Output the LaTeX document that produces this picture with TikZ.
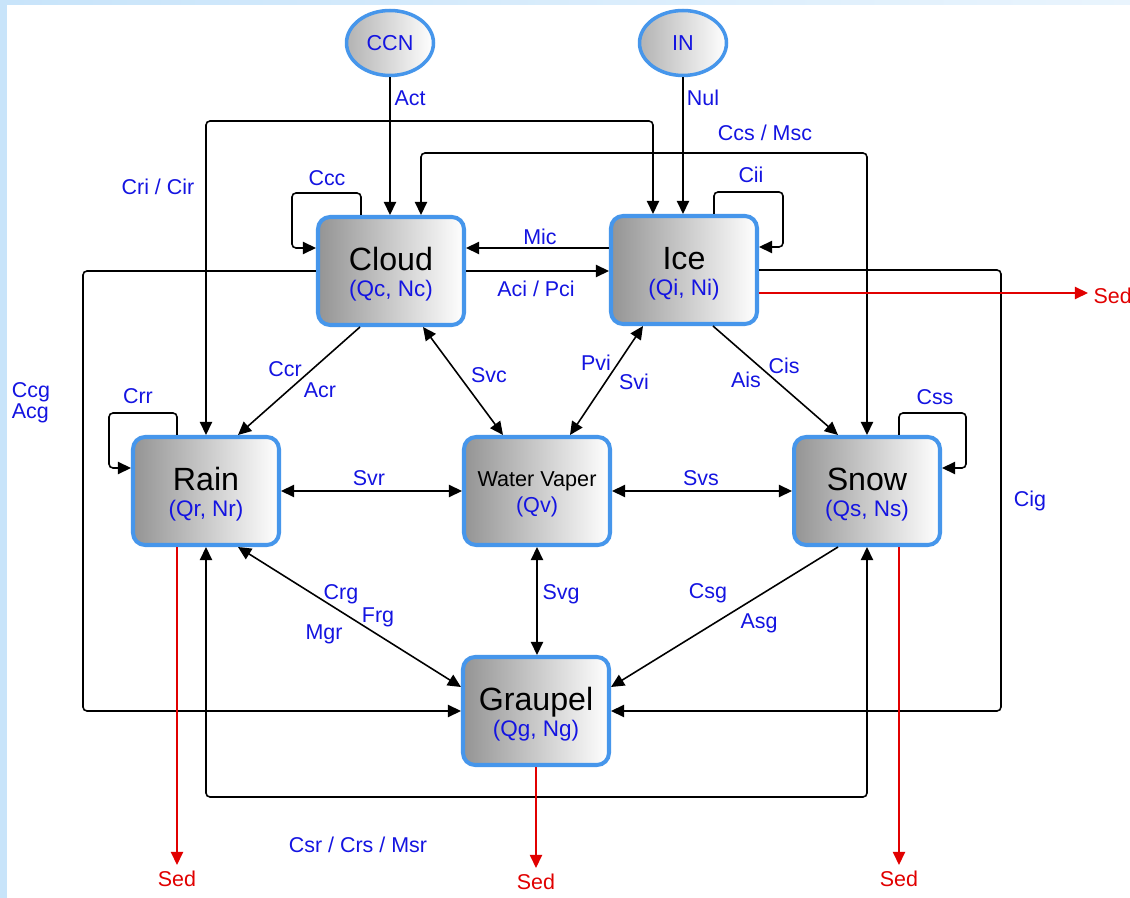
\documentclass[tikz,border=0pt]{standalone}
\usepackage{fontspec}
\setmainfont{Liberation Sans}
\usetikzlibrary{arrows.meta,shapes.geometric,calc}
\definecolor{lblue}{RGB}{20,20,225}
\definecolor{bborder}{RGB}{70,150,235}
\definecolor{sedred}{RGB}{225,0,0}
\definecolor{bgblue}{RGB}{200,228,250}
\newcommand\bxname[1]{{\fontsize{18.3}{18.3}\selectfont\rule{0pt}{16.9pt}#1}}
\begin{document}
\begin{tikzpicture}[x=0.02cm,y=-0.02cm,
  box/.style={draw=bborder,line width=2.3pt,rounded corners=0.24cm,left color=black!42,right color=white,
    minimum width=2.92cm,minimum height=2.16cm,inner sep=0pt,align=center,font=\fontsize{12.8}{15}\selectfont},
  src/.style={ellipse,draw=bborder,line width=2pt,left color=black!30,right color=white,
    minimum width=1.74cm,minimum height=1.3cm,inner sep=0pt,text=lblue,font=\fontsize{12.3}{14}\selectfont},
  lbl/.style={text=lblue,font=\fontsize{12.2}{14}\selectfont,inner sep=0pt},
  sedl/.style={text=sedred,font=\fontsize{12.2}{14}\selectfont,inner sep=3pt},
  conn/.style={line width=0.9pt,rounded corners=0.08cm},
  arr/.style={conn,-{Triangle[length=7.5pt,width=7pt]}},
  darr/.style={conn,{Triangle[length=7.5pt,width=7pt]}-{Triangle[length=7.5pt,width=7pt]}},
  sedarr/.style={line width=0.8pt,draw=sedred,-{Triangle[length=7.5pt,width=7pt]}}
]
\useasboundingbox (0,0) rectangle (1130,898);
\fill[bgblue] (0,0) rectangle (1130,898);
\shade[left color=bgblue,right color=bgblue!40] (7,0) rectangle (1130,5);
\fill[white] (7,5) rectangle (1130,898);

% nodes
\node[src] (ccn) at (390,43) {CCN};
\node[src] (inn) at (683,43) {IN};
\node[box] (cloud) at (391,271) {\bxname{Cloud}\\[0.3pt]\textcolor{lblue}{(Qc, Nc)}};
\node[box] (ice) at (684,270) {\bxname{Ice}\\[0.3pt]\textcolor{lblue}{(Qi, Ni)}};
\node[box] (rain) at (206,491) {\bxname{Rain}\\[0.3pt]\textcolor{lblue}{(Qr, Nr)}};
\node[box,font=\fontsize{12.3}{14}\selectfont] (vap) at (537,491) {\rule{0pt}{12.4pt}Water Vaper\\[0.5pt]\textcolor{lblue}{(Qv)}};
\node[box] (snow) at (867,491) {\bxname{Snow}\\[0.3pt]\textcolor{lblue}{(Qs, Ns)}};
\node[box] (graupel) at (536,711) {\bxname{Graupel}\\[0.3pt]\textcolor{lblue}{(Qg, Ng)}};

\coordinate (iceSed) at ($(ice.east)+(0,23)$);
\node[sedl,anchor=west] (sedI) at (1088,296) {Sed};
\node[sedl,anchor=north] (sedR) at ($(rain.south |- 0,865)+(-29,0)$) {Sed};
\node[sedl,anchor=north] (sedG) at (graupel.south |- 0,868) {Sed};
\node[sedl,anchor=north] (sedS) at ($(snow.south |- 0,865)+(32,0)$) {Sed};

% routing coordinates
\coordinate (yCri) at (0,121);
\coordinate (yCcs) at (0,153);
\coordinate (xCcg) at (83,0);
\coordinate (xCig) at (1001,0);
\coordinate (yBot) at (0,797);
\coordinate (iceL) at ($(ice.north)+(-31,0)$);
\coordinate (cloudR) at ($(cloud.north)+(30,0)$);

% connectors
\draw[arr] (ccn.south) -- (ccn.south |- cloud.north);
\draw[arr] (inn.south) -- (inn.south |- ice.north);
\draw[darr] (rain.north) |- (iceL |- yCri) -- (iceL);
\draw[darr] (cloudR) |- (snow.north |- yCcs) -- (snow.north);
\draw[arr] ($(cloud.north)+(-30,0)$) -- ++(0,-22) -| ($(cloud.west)+(-24,-23)$) -- ($(cloud.west)+(0,-23)$);
\draw[arr] ($(ice.north)+(30,0)$) -- ++(0,-22) -| ($(ice.east)+(24,-23)$) -- ($(ice.east)+(0,-23)$);
\draw[arr] ($(ice.west)+(0,-22)$) -- ($(cloud.east)+(0,-23)$);
\draw[arr] (cloud.east) -- (cloud.east -| ice.west);
\draw[arr] (cloud.west) -| (xCcg |- graupel.west) -- (graupel.west);
\draw[arr] (ice.east) -| (xCig |- graupel.east) -- (graupel.east);
\draw[sedarr] (iceSed) -- (iceSed -| sedI.west);
\draw[arr] ($(cloud.south)+(-31,0)$) -- ($(rain.north)+(32,0)$);
\draw[darr] ($(cloud.south)+(32,0)$) -- ($(vap.north)+(-34,0)$);
\draw[darr] ($(ice.south)+(-41,0)$) -- ($(vap.north)+(33,0)$);
\draw[arr] ($(ice.south)+(29,0)$) -- ($(snow.north)+(-29,0)$);
\draw[arr] ($(rain.north)+(-29,0)$) -- ++(0,-22) -| ($(rain.west)+(-22,-23)$) -- ($(rain.west)+(0,-23)$);
\draw[arr] ($(snow.north)+(32,0)$) -- ++(0,-22) -| ($(snow.east)+(24,-23)$) -- ($(snow.east)+(0,-23)$);
\draw[darr] (rain.east) -- (vap.west);
\draw[darr] (vap.east) -- (snow.west);
\draw[darr] ($(rain.south)+(32,0)$) -- ($(graupel.west)+(0,-24)$);
\draw[darr] (vap.south) -- (vap.south |- graupel.north);
\draw[arr] ($(snow.south)+(-29,0)$) -- ($(graupel.east)+(0,-24)$);
\draw[darr] (rain.south) |- (snow.south |- yBot) -- (snow.south);
\draw[sedarr] ($(rain.south)+(-29,0)$) -- (sedR.north);
\draw[sedarr] (graupel.south) -- (sedG.north);
\draw[sedarr] ($(snow.south)+(32,0)$) -- (sedS.north);

% labels
\node[lbl] (lAct) at (410,98) {Act};
\node[lbl] (lNul) at (703,98) {Nul};
\node[lbl] (lCri) at (158,187) {Cri / Cir};
\node[lbl] (lCcs) at (765,133) {Ccs / Msc};
\node[lbl] (lCcc) at (327,178) {Ccc};
\node[lbl] (lCii) at (751,175) {Cii};
\node[lbl] (lMic) at (540,237) {Mic};
\node[lbl] (lAci) at (536,289) {Aci / Pci};
\node[lbl,align=left] (lCcg) at (31,403) {Ccg\\[-2pt]Acg};
\node[lbl] (lCig) at (1030,501) {Cig};
\node[lbl] (lCcr) at (285,369) {Ccr};
\node[lbl] (lAcr) at (320,390) {Acr};
\node[lbl] (lSvc) at (489,375) {Svc};
\node[lbl] (lPvi) at (596,363) {Pvi};
\node[lbl] (lSvi) at (634,382) {Svi};
\node[lbl] (lCis) at (784,366) {Cis};
\node[lbl] (lAis) at (746,380) {Ais};
\node[lbl] (lCrr) at (138,396) {Crr};
\node[lbl] (lCss) at (935,397) {Css};
\node[lbl] (lSvr) at (369,478) {Svr};
\node[lbl] (lSvs) at (701,478) {Svs};
\node[lbl] (lCrg) at (341,594) {Crg};
\node[lbl] (lFrg) at (378,617) {Frg};
\node[lbl] (lMgr) at (324,634) {Mgr};
\node[lbl] (lSvg) at (561,594) {Svg};
\node[lbl] (lCsg) at (708,593) {Csg};
\node[lbl] (lAsg) at (759,623) {Asg};
\node[lbl] (lCsr) at (358,845) {Csr / Crs / Msr};
\end{tikzpicture}
\end{document}
